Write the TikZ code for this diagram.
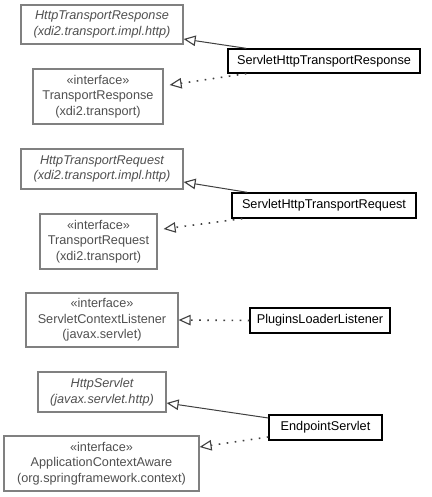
\documentclass[tikz,border=0pt]{standalone}
\usepackage{fontspec}
\setmainfont{Liberation Sans}
\usetikzlibrary{arrows.meta}
\definecolor{extline}{HTML}{808080}
\definecolor{exttext}{HTML}{505050}
\definecolor{conn}{HTML}{404040}
\begin{document}
\begin{tikzpicture}[x=1pt,y=-1pt,
  box/.style={draw, line width=1.2pt, inner sep=0pt, align=center,
    font=\fontsize{12.7}{15.5}\selectfont},
  extbox/.style={box, draw=extline, text=exttext},
  concbox/.style={box, draw=black, text=black, line width=1.3pt},
  gen/.style={draw=conn, line width=1pt, -{Triangle[open, length=12pt, width=10.5pt, line width=1.1pt]}},
  real/.style={draw=conn, line width=1.6pt, dash pattern=on 1.6pt off 6.5pt,
    -{Triangle[open, length=12pt, width=10.5pt, line width=1.1pt]}}]
\fill[white] (0,0) rectangle (431,497);
\useasboundingbox (0,0) rectangle (431,497);

% group 1
\node[extbox, minimum width=162pt, minimum height=39pt] (hrsp) at (102,24.5)
  {\itshape HttpTransportResponse\\\itshape (xdi2.transport.impl.http)};
\node[concbox, minimum width=192pt, minimum height=24pt] (srsp) at (324,61)
  {ServletHttpTransportResponse};
\node[extbox, minimum width=130pt, minimum height=55pt] (irsp) at (98,96.5)
  {«interface»\\TransportResponse\\(xdi2.transport)};
\draw[gen] ([xshift=19pt]srsp.north west) -- ([yshift=-14.5pt]hrsp.east);
\draw[real] ([xshift=19pt]srsp.south west) -- ([xshift=6pt,yshift=11.5pt]irsp.east);

% group 2
\node[extbox, minimum width=162pt, minimum height=40pt] (hreq) at (102,169)
  {\itshape HttpTransportRequest\\\itshape (xdi2.transport.impl.http)};
\node[concbox, minimum width=184pt, minimum height=25pt] (sreq) at (324,205.5)
  {ServletHttpTransportRequest};
\node[extbox, minimum width=117pt, minimum height=55pt] (ireq) at (98.5,241.5)
  {«interface»\\TransportRequest\\(xdi2.transport)};
\draw[gen] ([xshift=16pt]sreq.north west) -- ([yshift=-13pt]hreq.east);
\draw[real] ([xshift=11pt]sreq.south west) -- ([xshift=6pt,yshift=12.5pt]ireq.east);

% group 3
\node[extbox, minimum width=152pt, minimum height=54pt] (icl) at (102,320)
  {«interface»\\ServletContextListener\\(javax.servlet)};
\node[concbox, minimum width=140pt, minimum height=25pt] (pll) at (320,320.5)
  {PluginsLoaderListener};
\draw[real] (pll.west) -- (icl.east);

% group 4
\node[extbox, minimum width=128pt, minimum height=40pt] (hsv) at (102,392)
  {\itshape HttpServlet\\\itshape (javax.servlet.http)};
\node[concbox, minimum width=113pt, minimum height=25pt] (eps) at (325.5,427.5)
  {EndpointServlet};
\node[extbox, minimum width=195pt, minimum height=55pt] (aca) at (101.5,463.5)
  {«interface»\\ApplicationContextAware\\(org.springframework.context)};
\draw[gen] ([yshift=9.5pt]eps.west) -- ([yshift=-11pt]hsv.east);
\draw[real] ([yshift=-9.5pt]eps.west) -- ([yshift=16.5pt]aca.east);
\end{tikzpicture}
\end{document}
